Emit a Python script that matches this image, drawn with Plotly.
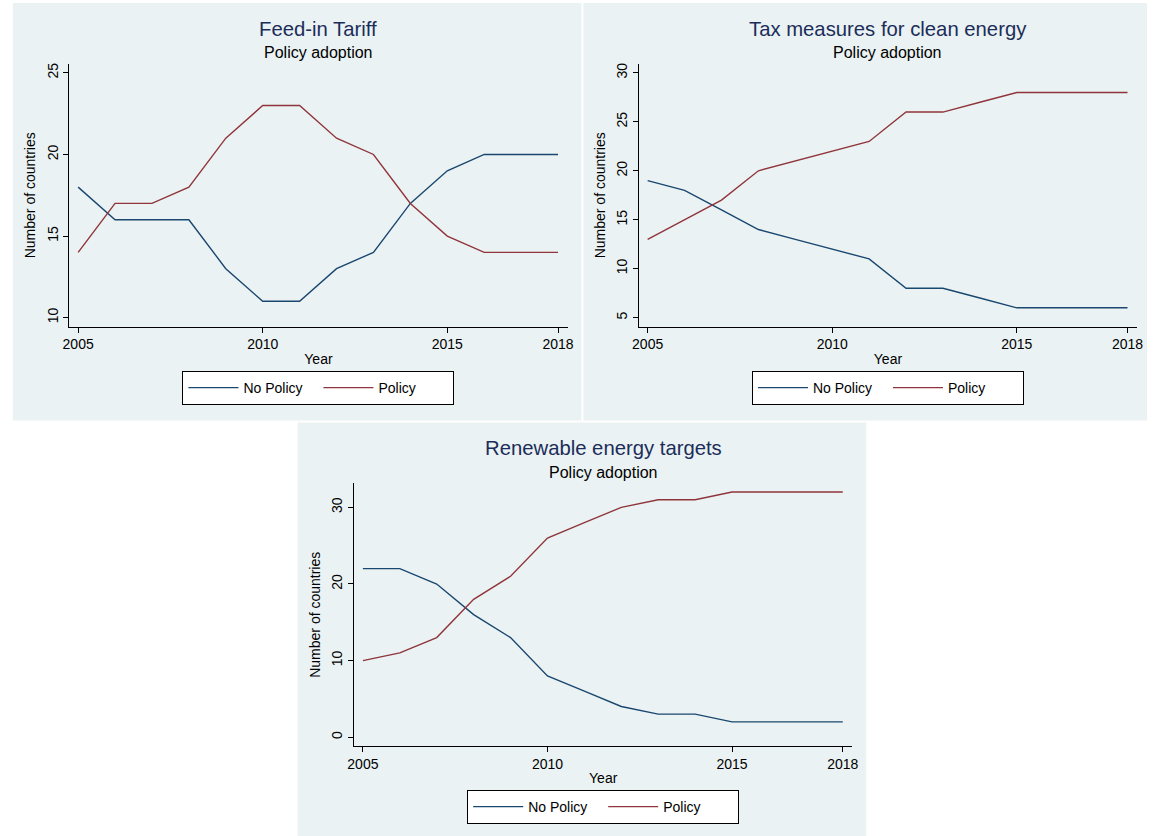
import plotly.graph_objects as go

years = list(range(2005, 2019))

titles = ["Feed-in Tariff", "Tax measures for clean energy", "Renewable energy targets"]
subtitle = "Policy adoption"

fit_no_policy = [18, 16, 16, 16, 13, 11, 11, 13, 14, 17, 19, 20, 20, 20]
fit_policy = [14, 17, 17, 18, 21, 23, 23, 21, 20, 17, 15, 14, 14, 14]

tax_no_policy = [19, 18, 16, 14, 13, 12, 11, 8, 8, 7, 6, 6, 6, 6]
tax_policy = [13, 15, 17, 20, 21, 22, 23, 26, 26, 27, 28, 28, 28, 28]

ret_no_policy = [22, 22, 20, 16, 13, 8, 6, 4, 3, 3, 2, 2, 2, 2]
ret_policy = [10, 11, 13, 18, 21, 26, 28, 30, 31, 31, 32, 32, 32, 32]

x_ticks = [2005, 2010, 2015, 2018]
y_ticks = [[10, 15, 20, 25], [5, 10, 15, 20, 25, 30], [0, 10, 20, 30]]
y_ranges = [[9.45, 25.55], [4.08, 30.92], [-1.17, 33.13]]

W, H = 1153, 836
NAVY = "#1a476f"
MAROON = "#90353b"
BG = "#eaf2f3"
TITLE_C = "#1c2d5a"
FONT = "Liberation Sans, Arial, sans-serif"

def px_x(p):
    return p / W

def px_y(p):
    return 1 - p / H

# panel geometry in pixels: (bg box), (plot box)
panels = [
    dict(bg=(6, 2, 581, 420), plot=(63, 63, 567, 326)),
    dict(bg=(583, 2, 1153, 420), plot=(639, 63, 1143, 326)),
    dict(bg=(294, 422, 869, 836), plot=(351, 483, 855, 746)),
]

series = [(fit_no_policy, fit_policy), (tax_no_policy, tax_policy), (ret_no_policy, ret_policy)]

fig = go.Figure()
legend_names = ["legend", "legend2", "legend3"]

for i, (nop, pol) in enumerate(series):
    xa = "x" if i == 0 else f"x{i+1}"
    ya = "y" if i == 0 else f"y{i+1}"
    fig.add_trace(go.Scatter(x=years, y=nop, mode="lines", name="No Policy",
                             line=dict(color=NAVY, width=1.4), xaxis=xa, yaxis=ya,
                             legend=legend_names[i]))
    fig.add_trace(go.Scatter(x=years, y=pol, mode="lines", name="Policy",
                             line=dict(color=MAROON, width=1.4), xaxis=xa, yaxis=ya,
                             legend=legend_names[i]))

layout = dict(width=W, height=H, margin=dict(l=0, r=0, t=0, b=0),
              paper_bgcolor="white", plot_bgcolor="white",
              font=dict(family=FONT, size=14, color="black"))

shapes = []
annotations = []
for i, p in enumerate(panels):
    x0, y0, x1, y1 = p["bg"]
    shapes.append(dict(type="rect", xref="paper", yref="paper", layer="below",
                       x0=px_x(x0), x1=px_x(x1), y0=px_y(y1), y1=px_y(y0),
                       fillcolor=BG, line=dict(width=0)))
    px0, py0, px1, py1 = p["plot"]
    sx = "" if i == 0 else str(i + 1)
    layout["xaxis" + sx] = dict(domain=[px_x(px0), px_x(px1)], range=[2004.76, 2018.26],
                               anchor="y" + sx, tickvals=x_ticks, ticks="outside", ticklen=5,
                               tickcolor="black", showline=True, linecolor="black", linewidth=1,
                               showgrid=False, zeroline=False, tickfont=dict(size=14),
                               title=dict(text="Year", font=dict(size=14), standoff=2))
    layout["yaxis" + sx] = dict(domain=[px_y(py1), px_y(py0)], range=y_ranges[i],
                               anchor="x" + sx, tickvals=y_ticks[i], ticks="outside", ticklen=5,
                               tickcolor="black", showline=True, linecolor="black", linewidth=1,
                               showgrid=True, gridcolor=BG, gridwidth=1, zeroline=False,
                               tickangle=-90, tickfont=dict(size=14),
                               title=dict(text="Number of countries", font=dict(size=14), standoff=5))
    cx = (px0 + px1) / 2
    ty = 28 if i < 2 else 448
    sy = 52 if i < 2 else 472
    annotations.append(dict(text=titles[i], xref="paper", yref="paper", x=px_x(cx), y=px_y(ty),
                            xanchor="center", yanchor="middle", showarrow=False,
                            font=dict(size=20.3, color=TITLE_C)))
    annotations.append(dict(text=subtitle, xref="paper", yref="paper", x=px_x(cx), y=px_y(sy),
                            xanchor="center", yanchor="middle", showarrow=False,
                            font=dict(size=16, color="black")))
    ly = 370.5 if i < 2 else 790
    layout[legend_names[i]] = dict(x=px_x(cx), y=px_y(ly), xanchor="center", yanchor="top",
                                   orientation="h", bgcolor="white", bordercolor="black",
                                   borderwidth=1, font=dict(size=14), entrywidth=70,
                                   entrywidthmode="pixels", itemwidth=50)

layout["shapes"] = shapes
layout["annotations"] = annotations
fig.update_layout(**layout)
fig.write_html("out.html", config={"displayModeBar": False},
               post_script="document.body.style.margin='0';")
